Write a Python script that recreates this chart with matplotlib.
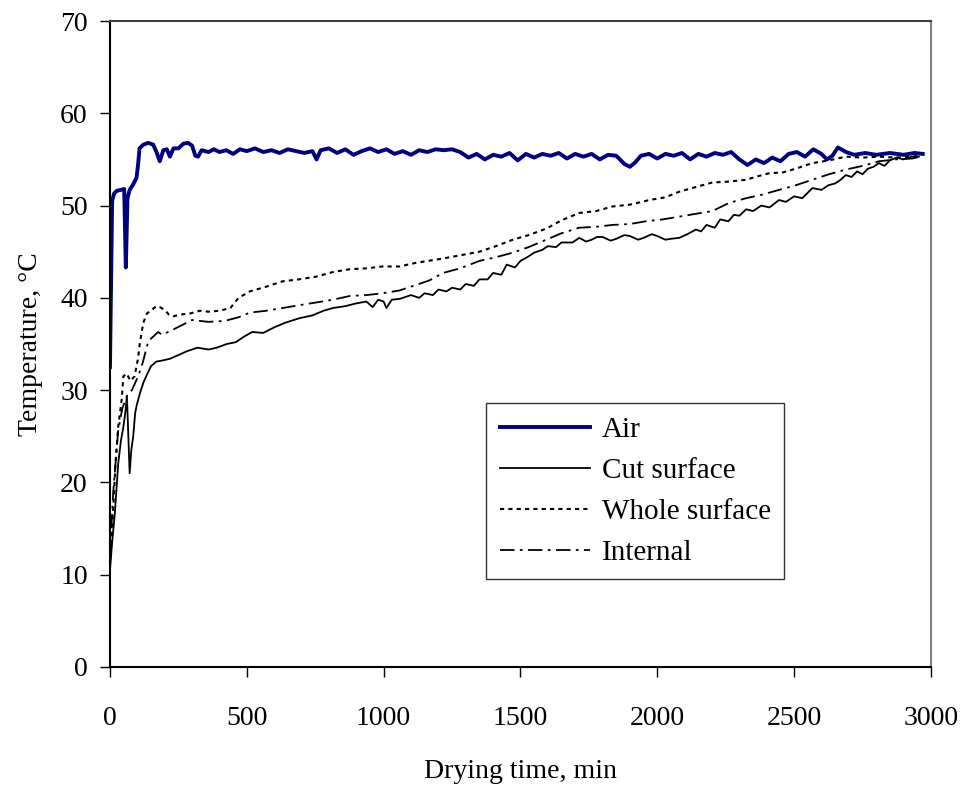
import matplotlib
matplotlib.use("Agg")
import matplotlib.pyplot as plt

plt.rcParams['font.family'] = ['Liberation Serif', 'DejaVu Serif']

# drying time (min) and temperatures (deg C)
t_air = [0, 8, 15, 25, 40, 52, 58, 64, 72, 85, 97, 103, 108, 122, 140, 158, 170, 182,
         195, 208, 219, 232, 250, 268, 285, 300, 312, 322, 335, 360, 380, 400, 425, 450,
         475, 500, 530, 560, 590, 620, 650, 680, 710, 740, 755, 770, 800, 830, 860, 890,
         920, 950, 980, 1010, 1040, 1070, 1100, 1130, 1160, 1190, 1220, 1250, 1280, 1310,
         1340, 1370, 1400, 1430, 1460, 1490, 1520, 1550, 1580, 1610, 1640, 1670, 1700,
         1730, 1760, 1790, 1820, 1850, 1880, 1900, 1920, 1940, 1970, 2000, 2030, 2060,
         2090, 2120, 2150, 2180, 2210, 2240, 2270, 2300, 2330, 2360, 2390, 2420, 2450,
         2480, 2510, 2540, 2570, 2600, 2620, 2640, 2660, 2690, 2720, 2760, 2800, 2850,
         2900, 2940, 2970]
air = [32.5, 50.5, 51.3, 51.6, 51.7, 51.8, 43.3, 50.8, 51.7, 52.3, 53.0, 54.5, 56.2, 56.6,
       56.8, 56.6, 55.8, 54.8, 56.0, 56.1, 55.3, 56.2, 56.2, 56.7, 56.8, 56.5, 55.4, 55.3,
       56.0, 55.8, 56.1, 55.8, 56.0, 55.6, 56.1, 55.9, 56.2, 55.8, 56.0, 55.7, 56.1, 55.9,
       55.7, 55.9, 55.0, 56.0, 56.2, 55.7, 56.1, 55.5, 55.9, 56.2, 55.8, 56.1, 55.6, 55.9,
       55.5, 56.0, 55.8, 56.1, 56.0, 56.1, 55.8, 55.2, 55.6, 55.0, 55.5, 55.3, 55.7, 54.9,
       55.6, 55.2, 55.6, 55.4, 55.7, 55.1, 55.6, 55.3, 55.6, 55.0, 55.5, 55.4, 54.5, 54.2,
       54.7, 55.4, 55.6, 55.1, 55.6, 55.4, 55.7, 55.0, 55.6, 55.3, 55.7, 55.5, 55.8, 55.0,
       54.4, 55.0, 54.6, 55.2, 54.8, 55.6, 55.8, 55.3, 56.1, 55.6, 55.0, 55.4, 56.3, 55.8,
       55.5, 55.7, 55.5, 55.7, 55.5, 55.7, 55.6]

t_cut = [0, 8, 18, 30, 40, 49, 57, 62, 66, 72,
         78, 85, 92, 98, 110, 122, 134, 150, 170, 190,
         219, 250, 280, 320, 360, 390, 427, 460, 490, 520,
         560, 600, 640, 693, 740, 780, 815, 860, 900, 937,
         960, 980, 1000, 1010, 1030, 1060, 1100, 1130, 1150, 1180,
         1200, 1230, 1250, 1280, 1300, 1330, 1350, 1380, 1400, 1430,
         1450, 1480, 1500, 1530, 1550, 1580, 1600, 1630, 1650, 1690,
         1715, 1740, 1760, 1780, 1800, 1830, 1850, 1880, 1900, 1930,
         1950, 1980, 2000, 2030, 2050, 2080, 2110, 2141, 2160, 2180,
         2210, 2230, 2260, 2280, 2300, 2325, 2350, 2380, 2410, 2445,
         2470, 2500, 2530, 2567, 2600, 2625, 2650, 2670, 2689, 2710,
         2730, 2750, 2770, 2790, 2810, 2830, 2850, 2875, 2900, 2930,
         2956]
cut = [10.5, 13.5, 16.7, 22.0, 24.5, 26.0, 27.8, 29.4, 26.0, 21.0,
       23.5, 25.0, 27.5, 28.4, 29.7, 30.8, 31.6, 32.6, 33.1, 33.2,
       33.4, 33.8, 34.2, 34.6, 34.4, 34.6, 35.0, 35.2, 35.8, 36.3,
       36.2, 36.8, 37.3, 37.8, 38.1, 38.6, 38.9, 39.1, 39.4, 39.6,
       39.0, 39.8, 39.6, 38.9, 39.8, 39.9, 40.3, 40.0, 40.5, 40.3,
       40.9, 40.7, 41.1, 40.9, 41.5, 41.3, 42.0, 42.0, 42.7, 42.5,
       43.6, 43.3, 44.0, 44.5, 44.9, 45.2, 45.6, 45.5, 46.0, 46.0,
       46.5, 46.1, 46.3, 46.6, 46.6, 46.2, 46.4, 46.8, 46.7, 46.3,
       46.5, 46.9, 46.7, 46.3, 46.4, 46.5, 46.9, 47.4, 47.2, 47.9,
       47.6, 48.5, 48.3, 49.0, 48.9, 49.6, 49.4, 50.0, 49.8, 50.6,
       50.4, 51.0, 50.8, 51.9, 51.7, 52.2, 52.4, 52.8, 53.3, 53.1,
       53.7, 53.4, 54.0, 54.2, 54.6, 54.3, 54.9, 55.2, 55.0, 55.3,
       55.3]

t_whole = [0, 10, 20, 30, 43, 49, 61, 75, 90, 103, 109, 122, 135, 152, 170, 182, 200, 215,
           231, 260, 292, 328, 360, 400, 440, 470, 511, 570, 632, 690, 754, 815, 876, 937,
           997, 1058, 1119, 1204, 1260, 1350, 1410, 1472, 1530, 1594, 1650, 1715, 1776,
           1836, 1900, 1971, 2030, 2080, 2140, 2201, 2263, 2325, 2370, 2409, 2460, 2506,
           2567, 2628, 2689, 2750, 2810, 2870, 2932, 2960]
whole = [11.5, 16.0, 22.0, 26.0, 29.0, 31.5, 31.8, 31.0, 31.5, 33.5, 35.1, 37.3, 38.3,
         38.7, 39.1, 39.0, 38.7, 38.2, 38.0, 38.2, 38.3, 38.6, 38.5, 38.6, 38.9, 40.0, 40.7,
         41.2, 41.8, 42.0, 42.3, 42.8, 43.1, 43.2, 43.4, 43.4, 43.8, 44.2, 44.5, 45.0, 45.6,
         46.3, 46.8, 47.5, 48.4, 49.2, 49.4, 49.9, 50.1, 50.6, 50.9, 51.5, 52.0, 52.5, 52.6,
         52.8, 53.2, 53.5, 53.6, 54.0, 54.6, 54.9, 55.3, 55.2, 55.3, 55.2, 55.3, 55.4]

t_int = [0, 12, 30, 45, 61, 80, 103, 120, 140, 158, 176, 190, 220, 260, 300, 360, 420, 470,
         511, 570, 632, 690, 754, 815, 876, 937, 997, 1058, 1119, 1168, 1217, 1280, 1350,
         1410, 1472, 1530, 1594, 1650, 1715, 1776, 1836, 1900, 1958, 2020, 2080, 2140, 2201,
         2263, 2325, 2385, 2445, 2506, 2567, 2628, 2689, 2750, 2810, 2870, 2932, 2960]
internal = [12.0, 19.0, 25.6, 28.0, 29.3, 30.0, 31.5, 33.0, 35.3, 35.8, 36.3, 36.0, 36.4,
            37.0, 37.6, 37.4, 37.5, 37.9, 38.4, 38.6, 38.9, 39.2, 39.5, 39.8, 40.2, 40.3,
            40.5, 40.8, 41.4, 41.9, 42.7, 43.2, 44.0, 44.4, 44.9, 45.5, 46.3, 47.0, 47.6,
            47.7, 47.9, 48.0, 48.3, 48.5, 48.8, 49.1, 49.4, 50.3, 50.8, 51.2, 51.7, 52.2,
            52.8, 53.4, 53.9, 54.3, 54.8, 55.0, 55.1, 55.3]

fig = plt.figure(figsize=(9.62, 7.87), dpi=100)
ax = fig.add_axes([0.1143, 0.1525, 0.8534, 0.8208])

ax.plot(t_air, air, color='#000080', lw=2.8, label='Air')
ax.plot(t_cut, cut, color='black', lw=1.3, label='Cut surface')
ax.plot(t_whole, whole, color='black', lw=1.5, linestyle=(0, (2, 2)), label='Whole surface')
ax.plot(t_int, internal, color='black', lw=1.3, linestyle=(0, (8, 3, 1.5, 3)), label='Internal')

ax.set_xlim(0, 3000)
ax.set_ylim(0, 70)
ax.set_xticks(range(0, 3001, 500))
ax.set_yticks(range(0, 71, 10))
ax.tick_params(axis='x', direction='out', length=7, width=1, pad=21, labelsize=20)
ax.tick_params(axis='y', direction='out', length=7, width=1, pad=9, labelsize=20)

ax.spines['left'].set_linewidth(1.5)
ax.spines['bottom'].set_linewidth(1.5)
ax.spines['top'].set_color('#404040')
ax.spines['top'].set_linewidth(1.5)
ax.spines['right'].set_color('#808080')
ax.spines['right'].set_linewidth(1.5)

ax.set_xlabel('Drying time, min', fontsize=20, labelpad=20)
ax.set_ylabel('Temperature, °C', fontsize=20, labelpad=12)

leg = ax.legend(loc='lower left', bbox_to_anchor=(0.4586, 0.136), fontsize=21,
                frameon=True, fancybox=False, handlelength=3.1, handletextpad=0.4,
                labelspacing=0.5, borderpad=0.45, borderaxespad=0)
leg.get_frame().set_edgecolor('black')
leg.get_frame().set_linewidth(1.0)

fig.savefig('out.png', dpi=100)
